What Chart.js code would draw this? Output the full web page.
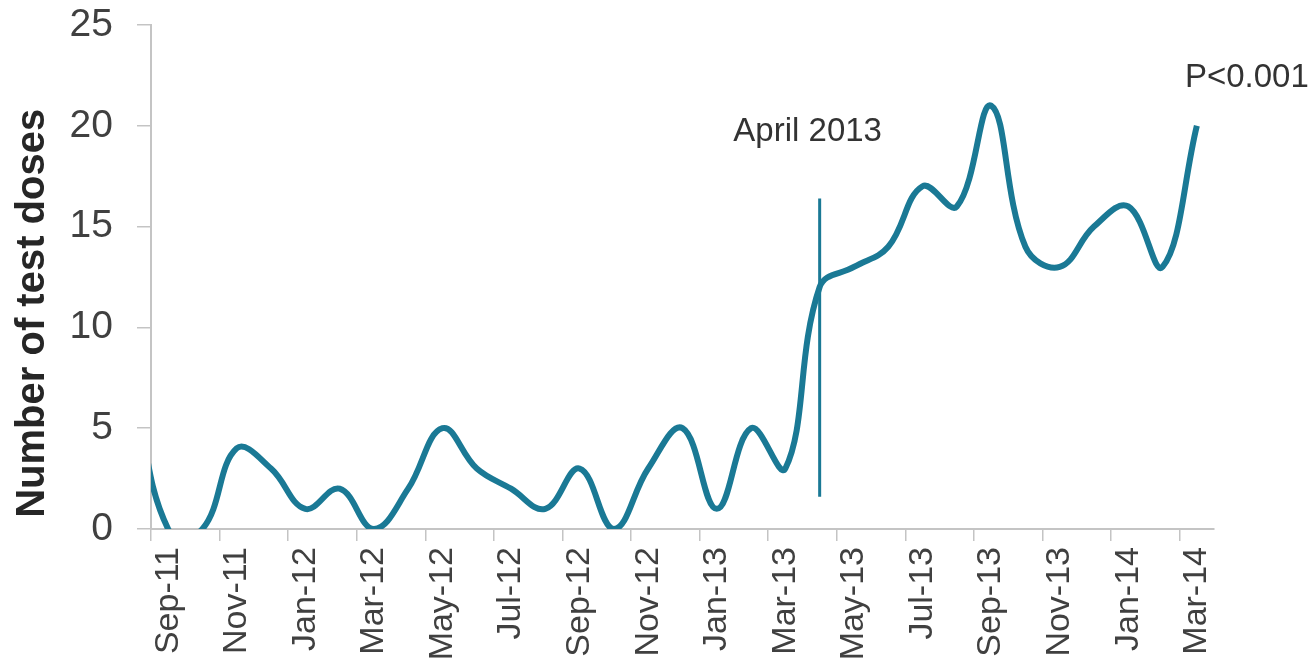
<!DOCTYPE html>
<html>
<head>
<meta charset="utf-8">
<script src="https://cdn.jsdelivr.net/npm/chart.js@4.4.1/dist/chart.umd.min.js"></script>
<style>
  html, body { margin: 0; padding: 0; background: #ffffff; }
  #wrap { width: 1316px; height: 671px; position: relative; }
</style>
</head>
<body>
<div id="wrap"><canvas id="c" width="1316" height="671"></canvas></div>
<script>
// Months (Aug-11 lies just left of the visible axis; the curve enters from it)
const months = ['Aug-11','Sep-11','Oct-11','Nov-11','Dec-11','Jan-12','Feb-12','Mar-12','Apr-12','May-12','Jun-12','Jul-12','Aug-12','Sep-12','Oct-12','Nov-12','Dec-12','Jan-13','Feb-13','Mar-13','Apr-13','May-13','Jun-13','Jul-13','Aug-13','Sep-13','Oct-13','Nov-13','Dec-13','Jan-14','Feb-14','Mar-14'];
const testDoses = [7,0,0,4,3,1,2,0,2,5,3,2,1,3,0,3,5,1,5,3,12,13,14,17,16,21,14,13,15,16,13,20];
const interventionMonth = 'Apr-13';
const interventionSpan = [1.6, 16.4];
const yTicks = [0,5,10,15,20,25];
const firstMonth = 'Sep-11';
const lastMonth = 'Mar-14';
const yTitle = 'Number of test doses';

const lineColor = '#1a7995';

const annotationPlugin = {
  id: 'annot',
  afterDatasetsDraw(chart) {
    const ctx = chart.ctx;
    const xs = chart.scales.x, ys = chart.scales.y;
    ctx.save();
    ctx.fillStyle = '#333333';
    ctx.font = '33px "Liberation Sans", Arial, sans-serif';
    ctx.textAlign = 'center';
    ctx.textBaseline = 'middle';
    ctx.fillText('April 2013', xs.getPixelForValue(months.indexOf(interventionMonth)) - 12, ys.getPixelForValue(19.7));
    ctx.fillText('P<0.001', xs.getPixelForValue(months.indexOf(lastMonth)) + 50, ys.getPixelForValue(22.4));
    // y-axis title
    ctx.translate(33, ys.getPixelForValue(10.7));
    ctx.rotate(-Math.PI / 2);
    ctx.fillStyle = '#262626';
    ctx.font = 'bold 40px "Liberation Sans", Arial, sans-serif';
    ctx.fillText(yTitle, 0, 0);
    ctx.restore();
  }
};

new Chart(document.getElementById('c'), {
  type: 'line',
  data: {
    labels: months,
    datasets: [
      {
        data: testDoses,
        borderColor: lineColor,
        borderWidth: 6,
        pointRadius: 0,
        tension: 0.4,
        fill: false,
        clip: { left: 0, top: 10, right: 10, bottom: 0 }
      },
      {
        data: interventionSpan.map(v => ({ x: interventionMonth, y: v })),
        borderColor: lineColor,
        borderWidth: 3,
        pointRadius: 0,
        tension: 0,
        fill: false
      }
    ]
  },
  options: {
    responsive: false,
    animation: false,
    devicePixelRatio: 1,
    elements: { line: { capBezierPoints: false } },
    layout: { padding: { left: 0, right: 102, top: 25, bottom: 0 } },
    plugins: {
      legend: { display: false },
      tooltip: { enabled: false }
    },
    scales: {
      x: {
        type: 'category',
        min: firstMonth,
        max: lastMonth,
        offset: true,
        border: { display: true, color: '#c4c4c4', width: 2 },
        grid: {
          display: true,
          offset: true,
          drawOnChartArea: false,
          drawTicks: true,
          tickLength: 12,
          lineWidth: 1.5,
          color: (c) => (c.index % 2 === 0 ? '#c4c4c4' : 'rgba(0,0,0,0)')
        },
        ticks: {
          autoSkip: false,
          maxRotation: 90,
          minRotation: 90,
          padding: 6,
          color: '#404040',
          font: { family: '"Liberation Sans", Arial, sans-serif', size: 34 },
          callback: function (value, index) {
            return index % 2 === 0 ? this.getLabelForValue(value) : '';
          }
        },
        afterFit: (s) => { s.height = 142; }
      },
      y: {
        min: 0,
        max: 25,
        border: { display: true, color: '#c4c4c4', width: 2 },
        grid: {
          display: true,
          drawOnChartArea: false,
          drawTicks: true,
          tickLength: 14,
          lineWidth: 1.5,
          color: '#c4c4c4'
        },
        afterBuildTicks: (s) => { s.ticks = yTicks.map(v => ({ value: v })); },
        ticks: {
          padding: 24,
          color: '#404040',
          font: { family: '"Liberation Sans", Arial, sans-serif', size: 39 }
        },
        title: { display: false },
        afterFit: (s) => { s.width = 151; s.paddingTop = 0; s.paddingBottom = 0; }
      }
    }
  },
  plugins: [annotationPlugin]
});
</script>
</body>
</html>
